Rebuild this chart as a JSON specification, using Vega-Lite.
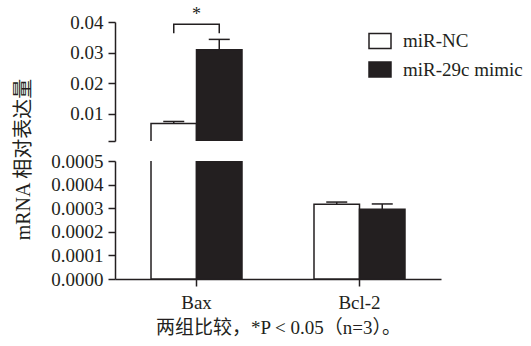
{
  "$schema": "https://vega.github.io/schema/vega-lite/v6.json",
  "autosize": {"type": "pad"},
  "bounds": "flush",
  "padding": {"left": 12, "top": 6, "right": 0, "bottom": 0},
  "background": "white",
  "config": {
    "view": {"stroke": null},
    "font": "Liberation Serif",
    "axis": {
      "domainColor": "#231f20", "domainWidth": 1.5,
      "tickColor": "#231f20", "tickWidth": 1.5, "tickSize": 7,
      "labelColor": "#231f20", "labelFont": "Liberation Serif", "labelFontSize": 19, "labelPadding": 5, "labelOverlap": false,
      "titleColor": "#231f20", "titleFont": "Liberation Serif, Noto Sans CJK SC", "titleFontSize": 19, "titleFontWeight": "normal",
      "grid": false
    }
  },
  "datasets": {
    "expr": [
      {"gene": "Bax", "group": "miR-NC", "value": 0.0067, "upper": 0.0074},
      {"gene": "Bax", "group": "miR-29c mimic", "value": 0.0309, "upper": 0.0343},
      {"gene": "Bcl-2", "group": "miR-NC", "value": 0.000317, "upper": 0.000326},
      {"gene": "Bcl-2", "group": "miR-29c mimic", "value": 0.000296, "upper": 0.000318}
    ],
    "bracket": [
      {"gene": "Bax", "group": "miR-NC", "y": 0.0363, "ord": 1},
      {"gene": "Bax", "group": "miR-NC", "y": 0.0393, "ord": 2},
      {"gene": "Bax", "group": "miR-29c mimic", "y": 0.0393, "ord": 3},
      {"gene": "Bax", "group": "miR-29c mimic", "y": 0.0363, "ord": 4}
    ],
    "star": [
      {"gene": "Bax", "y": 0.0422, "label": "*"}
    ]
  },
  "spacing": 20,
  "resolve": {
    "scale": {"x": "independent", "xOffset": "independent", "y": "independent", "fill": "independent"},
    "legend": {"fill": "independent"}
  },
  "vconcat": [
    {
      "width": 326,
      "height": 119,
      "layer": [
        {
          "data": {"name": "expr"},
          "mark": {"type": "bar", "stroke": "#231f20", "strokeWidth": 1.5, "clip": true},
          "encoding": {
            "x": {"field": "gene", "type": "nominal", "scale": {"domain": ["Bax", "Bcl-2"], "paddingInner": 0.4417, "paddingOuter": 0.2209}, "axis": null},
            "xOffset": {"field": "group", "type": "nominal", "scale": {"domain": ["miR-NC", "miR-29c mimic"], "paddingInner": 0, "paddingOuter": 0}},
            "y": {"field": "value", "type": "quantitative", "scale": {"domain": [0.001, 0.04], "zero": false, "nice": false},
              "axis": {"title": null, "values": [0.001, 0.01, 0.02, 0.03, 0.04], "labelFont": "Liberation Serif", "labelOverlap": false, "labelExpr": "datum.value < 0.005 ? '' : format(datum.value, '.2f')"}},
            "y2": {"datum": 0},
            "fill": {"field": "group", "type": "nominal", "scale": {"domain": ["miR-NC", "miR-29c mimic"], "range": ["#ffffff", "#231f20"]},
              "legend": {"title": null, "orient": "none", "legendX": 253, "legendY": 7, "symbolType": "M-1,-0.68H1V0.68H-1Z", "symbolSize": 484,
                "symbolStrokeColor": "#231f20", "symbolStrokeWidth": 1.5, "symbolOpacity": 1, "labelFont": "Liberation Serif", "labelFontSize": 19,
                "labelColor": "#231f20", "labelOffset": 11, "rowPadding": 5.5, "labelLimit": 300}}
          }
        },
        {
          "data": {"name": "expr"},
          "mark": {"type": "rule", "color": "#231f20", "strokeWidth": 1.5, "clip": true},
          "encoding": {
            "x": {"field": "gene", "type": "nominal", "axis": null},
            "xOffset": {"field": "group", "type": "nominal"},
            "y": {"field": "value", "type": "quantitative",
              "axis": {"title": null, "values": [0.001, 0.01, 0.02, 0.03, 0.04], "labelFont": "Liberation Serif", "labelOverlap": false, "labelExpr": "datum.value < 0.005 ? '' : format(datum.value, '.2f')"}},
            "y2": {"field": "upper"}
          }
        },
        {
          "data": {"name": "expr"},
          "mark": {"type": "tick", "color": "#231f20", "thickness": 1.5, "size": 21, "opacity": 1, "clip": true},
          "encoding": {
            "x": {"field": "gene", "type": "nominal", "axis": null},
            "xOffset": {"field": "group", "type": "nominal"},
            "y": {"field": "upper", "type": "quantitative",
              "axis": {"title": null, "values": [0.001, 0.01, 0.02, 0.03, 0.04], "labelFont": "Liberation Serif", "labelOverlap": false, "labelExpr": "datum.value < 0.005 ? '' : format(datum.value, '.2f')"}}
          }
        },
        {
          "data": {"name": "bracket"},
          "mark": {"type": "line", "color": "#231f20", "strokeWidth": 1.5, "clip": false},
          "encoding": {
            "x": {"field": "gene", "type": "nominal", "axis": null},
            "xOffset": {"field": "group", "type": "nominal"},
            "y": {"field": "y", "type": "quantitative",
              "axis": {"title": null, "values": [0.001, 0.01, 0.02, 0.03, 0.04], "labelFont": "Liberation Serif", "labelOverlap": false, "labelExpr": "datum.value < 0.005 ? '' : format(datum.value, '.2f')"}},
            "order": {"field": "ord", "type": "quantitative"}
          }
        },
        {
          "data": {"name": "star"},
          "mark": {"type": "text", "font": "Liberation Serif", "fontSize": 18, "color": "#231f20", "baseline": "middle", "clip": false},
          "encoding": {
            "x": {"field": "gene", "type": "nominal", "axis": null},
            "y": {"field": "y", "type": "quantitative",
              "axis": {"title": null, "values": [0.001, 0.01, 0.02, 0.03, 0.04], "labelFont": "Liberation Serif", "labelOverlap": false, "labelExpr": "datum.value < 0.005 ? '' : format(datum.value, '.2f')"}},
            "text": {"field": "label"}
          }
        }
      ]
    },
    {
      "width": 326,
      "height": 118,
      "layer": [
        {
          "data": {"name": "expr"},
          "mark": {"type": "bar", "stroke": "#231f20", "strokeWidth": 1.5, "clip": true},
          "encoding": {
            "x": {"field": "gene", "type": "nominal", "scale": {"domain": ["Bax", "Bcl-2"], "paddingInner": 0.4417, "paddingOuter": 0.2209},
              "axis": {"labelAngle": 0, "labelPadding": 7, "titlePadding": 6, "labelFont": "Liberation Serif", "title": "两组比较，*P < 0.05（n=3）。"}},
            "xOffset": {"field": "group", "type": "nominal", "scale": {"domain": ["miR-NC", "miR-29c mimic"], "paddingInner": 0, "paddingOuter": 0}},
            "y": {"field": "value", "type": "quantitative", "scale": {"domain": [0, 0.0005], "nice": false},
              "axis": {"values": [0, 0.0001, 0.0002, 0.0003, 0.0004, 0.0005], "format": ".4f", "labelFont": "Liberation Serif", "labelOverlap": false,
                "title": "mRNA 相对表达量", "titleFontSize": 20, "titleAngle": -90, "titleX": -92, "titleY": -2, "titleAlign": "center", "titleBaseline": "middle"}},
            "y2": {"datum": 0},
            "fill": {"field": "group", "type": "nominal", "scale": {"domain": ["miR-NC", "miR-29c mimic"], "range": ["#ffffff", "#231f20"]}, "legend": null}
          }
        },
        {
          "data": {"name": "expr"},
          "mark": {"type": "rule", "color": "#231f20", "strokeWidth": 1.5, "clip": true},
          "encoding": {
            "x": {"field": "gene", "type": "nominal",
              "axis": {"labelAngle": 0, "labelPadding": 7, "titlePadding": 6, "labelFont": "Liberation Serif", "title": "两组比较，*P < 0.05（n=3）。"}},
            "xOffset": {"field": "group", "type": "nominal"},
            "y": {"field": "value", "type": "quantitative",
              "axis": {"values": [0, 0.0001, 0.0002, 0.0003, 0.0004, 0.0005], "format": ".4f", "labelFont": "Liberation Serif", "labelOverlap": false,
                "title": "mRNA 相对表达量", "titleFontSize": 20, "titleAngle": -90, "titleX": -92, "titleY": -2, "titleAlign": "center", "titleBaseline": "middle"}},
            "y2": {"field": "upper"}
          }
        },
        {
          "data": {"name": "expr"},
          "mark": {"type": "tick", "color": "#231f20", "thickness": 1.5, "size": 21, "opacity": 1, "clip": true},
          "encoding": {
            "x": {"field": "gene", "type": "nominal",
              "axis": {"labelAngle": 0, "labelPadding": 7, "titlePadding": 6, "labelFont": "Liberation Serif", "title": "两组比较，*P < 0.05（n=3）。"}},
            "xOffset": {"field": "group", "type": "nominal"},
            "y": {"field": "upper", "type": "quantitative",
              "axis": {"values": [0, 0.0001, 0.0002, 0.0003, 0.0004, 0.0005], "format": ".4f", "labelFont": "Liberation Serif", "labelOverlap": false,
                "title": "mRNA 相对表达量", "titleFontSize": 20, "titleAngle": -90, "titleX": -92, "titleY": -2, "titleAlign": "center", "titleBaseline": "middle"}}
          }
        }
      ]
    }
  ]
}
